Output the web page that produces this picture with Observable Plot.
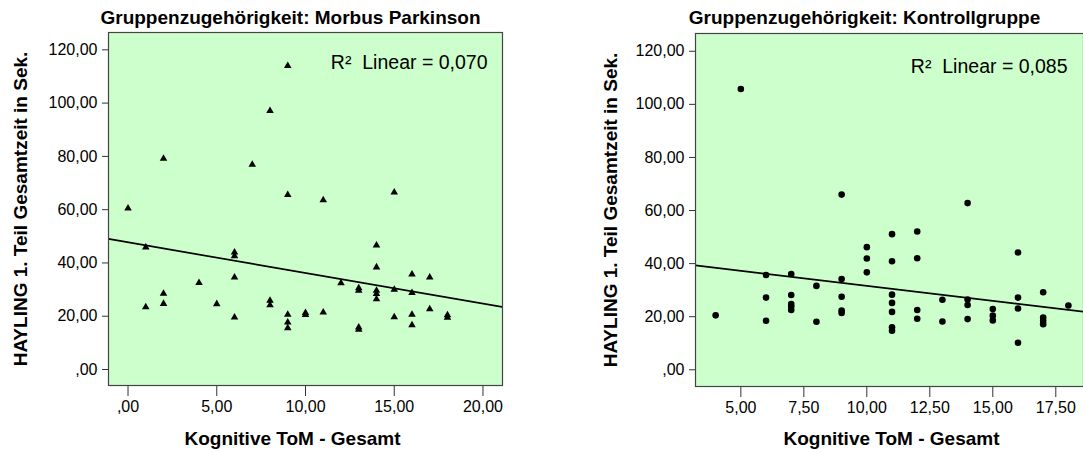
<!DOCTYPE html>
<html><head><meta charset="utf-8">
<script src="https://cdn.jsdelivr.net/npm/d3@7"></script>
<script src="https://cdn.jsdelivr.net/npm/@observablehq/plot@0.6"></script>
<style>
body{margin:0;background:#fff;}
#wrap{position:relative;width:1083px;height:452px;overflow:hidden;background:#fff;}
#left,#right{position:absolute;top:0;}
#left{left:0;} #right{left:543px;}
#wrap g[aria-label$="tick label"]{font-size:16px;}
</style></head><body><div id="wrap"><div id="left"></div><div id="right"></div></div>
<script>
// Morbus Parkinson group (triangles)
const parkX = [0, 1,1, 2,2,2, 4, 5, 6,6,6,6, 7, 8,8,8, 9,9,9,9,9, 10,10, 11,11, 12, 13,13,13,13, 14,14,14,14,14, 15,15,15, 16,16,16,16, 17,17, 18,18];
const parkY = [60.5, 45.9,23.4, 79.2,28.5,24.7, 32.5, 24.6, 44.0,42.6,34.6,19.6, 76.9, 97.1,25.9,24.2, 114,65.6,20.6,17.7,15.6, 21.3,20.5, 63.6,21.5, 32.4, 30.6,29.6,15.8,15.0, 46.6,38.4,29.6,28.4,26.4, 66.5,30.0,19.7, 35.7,28.8,20.6,16.7, 34.6,22.7, 20.4,19.5];
// Kontrollgruppe (circles)
const ctrlX = [4, 5, 6,6,6, 7,7,7,7,7, 8,8, 9,9,9,9,9, 10,10,10, 11,11,11,11,11,11,11, 12,12,12,12, 13,13, 14,14,14,14, 15,15,15, 16,16,16,16, 17,17,17,17, 18];
const ctrlY = [20.5, 105.8, 35.7,27.2,18.5, 36.1,28.2,24.8,23.8,22.5, 31.6,18.1, 66.0,34.2,27.5,22.3,21.4, 46.2,41.9,36.7, 51.1,40.9,28.3,25.2,21.8,16.0,14.7, 52.1,42.0,22.5,19.2, 26.4,18.2, 62.8,26.5,24.4,19.1, 22.9,20.4,18.6, 44.2,27.2,23.1,10.2, 29.2,19.7,18.5,17.2, 24.2];

const yTicks = [0, 20, 40, 60, 80, 100, 120];
const parkXTicks = [0, 5, 10, 15, 20];
const ctrlXTicks = [5, 7.5, 10, 12.5, 15, 17.5];
const titles = ["Gruppenzugehörigkeit: Morbus Parkinson", "Gruppenzugehörigkeit: Kontrollgruppe"];
const r2Labels = ["R²\u00a0 Linear = 0,070", "R²\u00a0 Linear = 0,085"];
const xLabel = "Kognitive ToM - Gesamt";
const yLabel = "HAYLING 1. Teil Gesamtzeit in Sek.";

const FONT = '"Liberation Sans", Arial, sans-serif';
const fmt = d => d === 0 ? ",00" : d.toFixed(2).replace(".", ",");

function fit(xs, ys) {
  const mx = d3.mean(xs), my = d3.mean(ys);
  let sxy = 0, sxx = 0;
  xs.forEach((x, i) => { sxy += (x - mx) * (ys[i] - my); sxx += (x - mx) ** 2; });
  const b = sxy / sxx;
  return {a: my - b * mx, b};
}

function panel(o) {
  const data = o.xs.map((x, i) => ({x, y: o.ys[i]}));
  const {a, b} = fit(o.xs, o.ys);
  const line = o.xDomain.map(x => ({x, y: a + b * x}));
  return Plot.plot({
    width: o.width, height: 452,
    marginLeft: o.ml, marginRight: o.mr, marginTop: o.mt, marginBottom: o.mb,
    style: {fontFamily: FONT, fontSize: "16px", color: "#000", background: "transparent", overflow: "visible"},
    x: {domain: o.xDomain},
    y: {domain: o.yDomain},
    marks: [
      Plot.frame({fill: "#ccffcc", stroke: "none"}),
      Plot.axisY({ticks: yTicks, tickFormat: fmt, tickSize: 6, tickPadding: 5, label: null, stroke: "#333"}),
      Plot.axisX({ticks: o.xTicks, tickFormat: fmt, tickSize: 11, tickPadding: 4, label: null, stroke: "#333"}),
      Plot.line(line, {x: "x", y: "y", stroke: "#000", strokeWidth: 1.7, clip: true}),
      Plot.dot(data, {x: "x", y: "y", symbol: o.symbol, r: o.r, fill: "#000", stroke: "none"}),
      Plot.frame({stroke: "#444", strokeWidth: 1.2}),
      Plot.text([o.r2], {text: d => d, frameAnchor: "top-right", textAnchor: "end", lineAnchor: "middle", dx: o.r2dx, dy: o.r2dy, fontSize: 19.5}),
      Plot.text([o.title], {text: d => d, frameAnchor: "top", textAnchor: "middle", lineAnchor: "middle", dx: o.tdx, dy: o.tdy, fontWeight: "bold", fontSize: 19}),
      Plot.text([xLabel], {text: d => d, frameAnchor: "bottom", textAnchor: "middle", lineAnchor: "middle", dx: o.xldx, dy: o.xldy, fontWeight: "bold", fontSize: 19}),
      Plot.text([yLabel], {text: d => d, frameAnchor: "left", textAnchor: "middle", lineAnchor: "middle", rotate: -90, dx: o.yldx, fontWeight: "bold", fontSize: 19})
    ]
  });
}

document.getElementById("left").append(panel({
  xs: parkX, ys: parkY, xDomain: [-1.1, 21.1], yDomain: [-6, 126.5], xTicks: parkXTicks,
  symbol: "triangle", r: 2.8, width: 540, ml: 108, mr: 38, mt: 32, mb: 67,
  r2: r2Labels[0], r2dx: -15, r2dy: 30, title: titles[0], tdx: -15, tdy: -15,
  xldx: -13, xldy: 53, yldx: -88
}));
document.getElementById("right").append(panel({
  xs: ctrlX, ys: ctrlY, xDomain: [3.2, 18.6], yDomain: [-6.3, 126.7], xTicks: ctrlXTicks,
  symbol: "circle", r: 3.3, width: 540, ml: 152, mr: 0, mt: 33, mb: 66,
  r2: r2Labels[1], r2dx: -16, r2dy: 33, title: titles[1], tdx: -25, tdy: -16,
  xldx: 2, xldy: 52, yldx: -85
}));
</script></body></html>
